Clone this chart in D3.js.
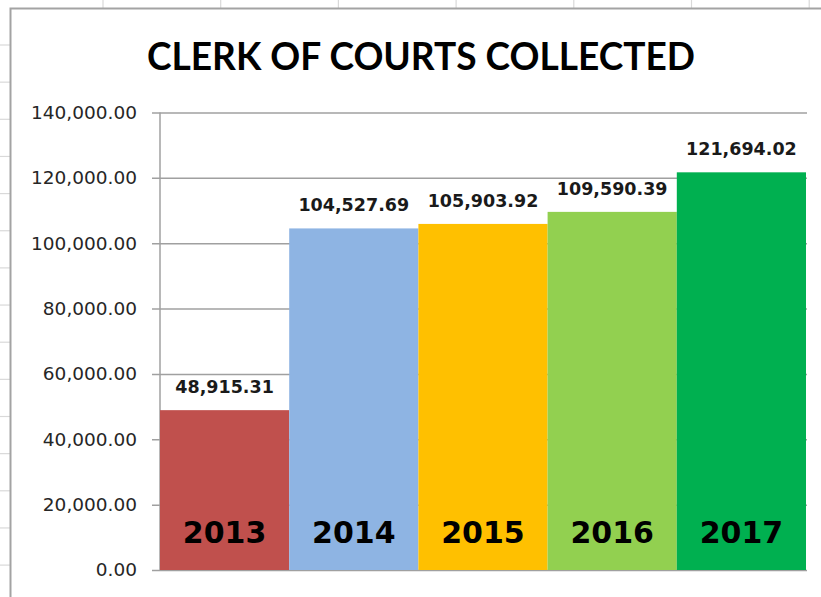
<!DOCTYPE html>
<html>
<head>
<meta charset="utf-8">
<script src="https://cdn.jsdelivr.net/npm/d3@7"></script>
<style>
  body { margin: 0; background: #ffffff; }
</style>
</head>
<body>
<div id="container"></div>
<script>
// chart values
let years = ["2013", "2014", "2015", "2016", "2017"];
let collected = [48915.31, 104527.69, 105903.92, 109590.39, 121694.02];
let barColors = ["#C0504D", "#8EB4E3", "#FFC000", "#92D050", "#00B050"];
let yTicks = [0, 20000, 40000, 60000, 80000, 100000, 120000, 140000];
let title = "CLERK OF COURTS COLLECTED";

let w = 821;
let h = 597;
let plotLeft = 160;
let plotRight = 806;
let plotTop = 112.5;
let plotBottom = 570;

let viz = d3.select("#container")
  .append("svg")
    .attr("width", w)
    .attr("height", h)
    .style("display", "block")
    .style("background-color", "#ffffff");

// spreadsheet cells behind the chart
let cellGroup = viz.append("g").attr("class", "cells");
for (let x = 103; x < w; x += 117.7) {
  cellGroup.append("line")
    .attr("x1", x).attr("x2", x)
    .attr("y1", 0).attr("y2", 9)
    .attr("stroke", "#d9d9d9").attr("stroke-width", 1.2);
}
for (let y = 45; y < h; y += 37.15) {
  cellGroup.append("line")
    .attr("x1", 0).attr("x2", 10)
    .attr("y1", y).attr("y2", y)
    .attr("stroke", "#d9d9d9").attr("stroke-width", 1.2);
}

// chart frame (right and bottom run off the picture)
viz.append("path")
  .attr("d", "M10.5," + h + " L10.5,8.5 L" + w + ",8.5")
  .attr("fill", "none")
  .attr("stroke", "#a3a3a3")
  .attr("stroke-width", 2);

// title
viz.append("text")
  .attr("x", 421)
  .attr("y", 70)
  .attr("text-anchor", "middle")
  .attr("textLength", 548)
  .attr("lengthAdjust", "spacingAndGlyphs")
  .style("font-family", "Lato, 'Open Sans', sans-serif")
  .style("font-weight", "bold")
  .style("font-size", "38px")
  .style("fill", "#000")
  .text(title);

let xScale = d3.scaleBand().domain(years).range([plotLeft, plotRight]).padding(0);
let yScale = d3.scaleLinear().domain([0, 140000]).range([plotBottom, plotTop]);

// y axis with gridlines
let yAxis = d3.axisLeft(yScale)
  .tickValues(yTicks)
  .tickSize(-(plotRight - plotLeft + 1))
  .tickPadding(23)
  .tickFormat(d3.format(",.2f"));

let yAxisGroup = viz.append("g").attr("class", "yAxisGroup")
  .attr("transform", "translate(" + plotLeft + ",0)")
  .call(yAxis);

yAxisGroup.select(".domain").remove();
yAxisGroup.selectAll(".tick line")
  .attr("x1", -8)
  .attr("stroke", "#a0a0a0")
  .attr("stroke-width", 1.5);
yAxisGroup.selectAll(".tick text")
  .style("font-family", "'DejaVu Sans', sans-serif")
  .style("font-size", "18.5px")
  .style("fill", "#262626");

// vertical axis line
viz.append("line")
  .attr("x1", plotLeft).attr("x2", plotLeft)
  .attr("y1", yScale(140000)).attr("y2", yScale(0))
  .attr("stroke", "#a0a0a0")
  .attr("stroke-width", 1.5);

let barData = years.map(function(y, i) {
  return { year: y, value: collected[i], color: barColors[i] };
});

let datagroups = viz.selectAll(".datagroup")
  .data(barData)
  .enter()
  .append("g")
  .attr("class", "datagroup");

datagroups.append("rect")
  .attr("x", function(d) { return xScale(d.year); })
  .attr("y", function(d) { return yScale(d.value); })
  .attr("width", xScale.bandwidth())
  .attr("height", function(d) { return yScale(0) - yScale(d.value); })
  .attr("fill", function(d) { return d.color; });

// value labels above bars
datagroups.append("text")
  .attr("x", function(d) { return xScale(d.year) + xScale.bandwidth() / 2; })
  .attr("y", function(d) { return yScale(d.value) - 17; })
  .attr("text-anchor", "middle")
  .style("font-family", "'DejaVu Sans', sans-serif")
  .style("font-weight", "bold")
  .style("font-size", "17.5px")
  .style("fill", "#1a1a1a")
  .text(function(d) { return d3.format(",.2f")(d.value); });

// year labels inside bars
datagroups.append("text")
  .attr("x", function(d) { return xScale(d.year) + xScale.bandwidth() / 2; })
  .attr("y", 543)
  .attr("text-anchor", "middle")
  .style("font-family", "'DejaVu Sans', sans-serif")
  .style("font-weight", "bold")
  .style("font-size", "30px")
  .style("fill", "#000")
  .text(function(d) { return d.year; });
</script>
</body>
</html>
